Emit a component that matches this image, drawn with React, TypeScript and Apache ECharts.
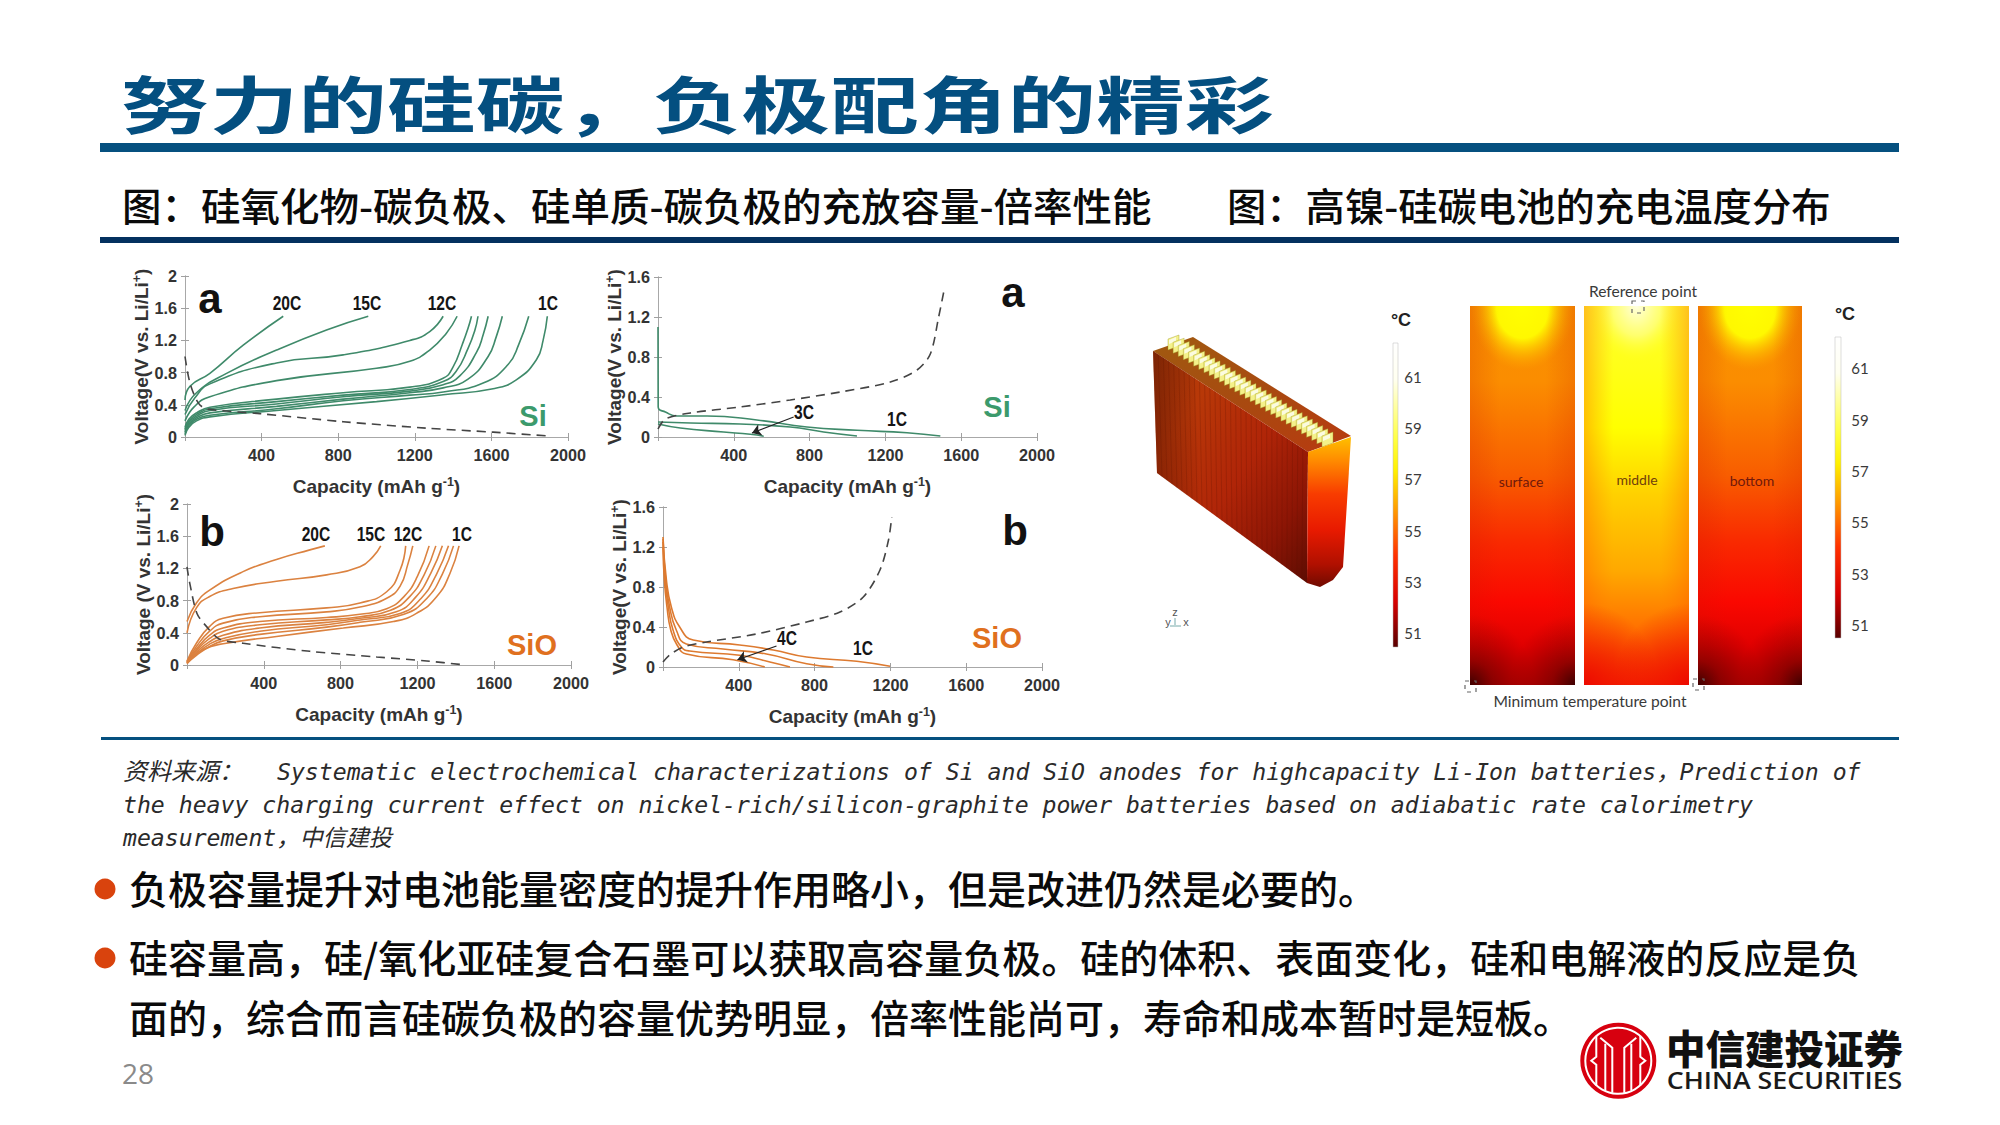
import React, { useEffect, useRef } from "react";
import * as echarts from "echarts";

type Pt = [number, number];

// ---- Si, charge profiles (panel top-left)
const siCharge20C: Pt[] = [[0, 0.46], [26, 0.63], [130, 0.79], [304, 1.14], [513, 1.5]];
const siCharge15C: Pt[] = [[0, 0.33], [60, 0.55], [217, 0.79], [478, 1.08], [739, 1.33], [957, 1.5]];
const siCharge12C: Pt[] = [[0, 0.28], [50, 0.48], [130, 0.66], [478, 0.92], [826, 1.02], [1174, 1.2], [1278, 1.31], [1348, 1.5]];
const siCharge10C: Pt[] = [[0, 0.2], [50, 0.38], [130, 0.5], [478, 0.7], [1000, 0.855], [1174, 0.94], [1278, 1.08], [1365, 1.29], [1421, 1.5]];
const siCharge8C: Pt[] = [[0, 0.12], [20, 0.22], [60, 0.3], [130, 0.37], [478, 0.47], [826, 0.55], [1174, 0.62], [1348, 0.73], [1400, 0.87], [1448, 1.15], [1478, 1.35], [1496, 1.5]];
const siCharge6C: Pt[] = [[0, 0.1], [20, 0.2], [60, 0.28], [130, 0.35], [478, 0.44], [826, 0.52], [1174, 0.59], [1348, 0.69], [1417, 0.82], [1478, 1.1], [1513, 1.32], [1530, 1.5]];
const siCharge5C: Pt[] = [[0, 0.08], [20, 0.18], [60, 0.26], [130, 0.33], [478, 0.41], [826, 0.5], [1174, 0.57], [1348, 0.65], [1435, 0.76], [1522, 1.05], [1557, 1.27], [1583, 1.5]];
const siCharge4C: Pt[] = [[0, 0.06], [20, 0.16], [60, 0.24], [130, 0.3], [478, 0.38], [826, 0.47], [1174, 0.55], [1348, 0.61], [1478, 0.72], [1583, 1.0], [1626, 1.25], [1657, 1.5]];
const siCharge2C: Pt[] = [[0, 0.04], [20, 0.14], [60, 0.22], [130, 0.27], [478, 0.35], [826, 0.45], [1174, 0.52], [1348, 0.56], [1557, 0.67], [1687, 0.9], [1743, 1.15], [1795, 1.5]];
const siCharge1C: Pt[] = [[0, 0.02], [20, 0.12], [60, 0.2], [130, 0.25], [478, 0.33], [1000, 0.44], [1348, 0.525], [1609, 0.6], [1730, 0.71], [1835, 0.96], [1870, 1.2], [1892, 1.5]];
const siDischargeDash: Pt[] = [[0, 1.0], [26, 0.67], [70, 0.42], [113, 0.35], [391, 0.29], [826, 0.19], [1260, 0.11], [1609, 0.06], [1913, 0.01]];

// ---- SiO, charge profiles (panel bottom-left)
const sioCharge20C: Pt[] = [[0, 0.54], [49, 0.77], [118, 0.93], [292, 1.16], [466, 1.31], [640, 1.43], [718, 1.48]];
const sioCharge15C: Pt[] = [[0, 0.4], [49, 0.71], [118, 0.85], [240, 0.95], [466, 1.04], [727, 1.12], [901, 1.22], [970, 1.35], [1009, 1.48]];
const sioCharge12C: Pt[] = [[0, 0.05], [49, 0.27], [118, 0.48], [188, 0.58], [379, 0.65], [727, 0.71], [901, 0.77], [1040, 0.91], [1110, 1.18], [1139, 1.48]];
const sioCharge10C: Pt[] = [[0, 0.04], [49, 0.23], [118, 0.42], [188, 0.52], [379, 0.6], [727, 0.66], [901, 0.72], [1040, 0.83], [1110, 0.98], [1150, 1.25], [1176, 1.48]];
const sioCharge8C: Pt[] = [[0, 0.04], [49, 0.2], [118, 0.37], [188, 0.46], [379, 0.54], [727, 0.59], [901, 0.63], [1040, 0.7], [1130, 0.85], [1200, 1.1], [1261, 1.48]];
const sioCharge6C: Pt[] = [[0, 0.03], [49, 0.18], [118, 0.33], [188, 0.42], [379, 0.5], [727, 0.56], [901, 0.6], [1060, 0.68], [1160, 0.85], [1235, 1.12], [1296, 1.48]];
const sioCharge5C: Pt[] = [[0, 0.03], [49, 0.16], [118, 0.29], [188, 0.37], [379, 0.46], [727, 0.53], [901, 0.58], [1090, 0.66], [1190, 0.84], [1270, 1.14], [1330, 1.48]];
const sioCharge4C: Pt[] = [[0, 0.02], [49, 0.14], [118, 0.26], [188, 0.33], [379, 0.42], [727, 0.5], [901, 0.56], [1110, 0.64], [1220, 0.83], [1300, 1.13], [1362, 1.48]];
const sioCharge2C: Pt[] = [[0, 0.02], [49, 0.12], [118, 0.23], [188, 0.3], [379, 0.38], [727, 0.47], [901, 0.53], [1130, 0.63], [1250, 0.83], [1330, 1.13], [1388, 1.48]];
const sioCharge1C: Pt[] = [[0, 0.02], [83, 0.19], [205, 0.27], [466, 0.355], [814, 0.46], [1075, 0.54], [1197, 0.645], [1301, 0.85], [1370, 1.14], [1417, 1.48]];
const sioDischargeDash: Pt[] = [[0, 1.22], [14, 1.02], [52, 0.64], [101, 0.48], [170, 0.32], [292, 0.27], [640, 0.17], [988, 0.1], [1249, 0.05], [1449, 0]];

// ---- Si, discharge profiles (panel top-right)
const siDis1C: Pt[] = [[0, 1.1], [1, 0.3], [39, 0.25], [100, 0.21], [259, 0.21], [522, 0.17], [786, 0.1], [1050, 0.067], [1314, 0.043], [1490, 0.01]];
const siDis2C: Pt[] = [[0, 0.15], [171, 0.14], [434, 0.13], [698, 0.1], [874, 0.05], [1050, 0.01]];
const siDis3C: Pt[] = [[0, 0.13], [118, 0.09], [346, 0.05], [487, 0.027], [558, 0.007]];
const siChargeDash: Pt[] = [[0, 0.08], [39, 0.18], [171, 0.24], [434, 0.3], [698, 0.37], [962, 0.45], [1226, 0.55], [1367, 0.67], [1437, 0.83], [1481, 1.2], [1513, 1.5]];
const siArrow: Pt[] = [[716, 0.2], [496, 0.04]];

// ---- SiO, discharge profiles (panel bottom-right)
const sioDis1C: Pt[] = [[0, 1.3], [18, 0.87], [44, 0.6], [88, 0.4], [159, 0.27], [405, 0.22], [582, 0.17], [758, 0.1], [1022, 0.057], [1198, 0.007]];
const sioDis2C: Pt[] = [[0, 1.28], [14, 0.87], [35, 0.6], [70, 0.37], [123, 0.23], [317, 0.18], [546, 0.13], [758, 0.033], [899, 0]];
const sioDis3C: Pt[] = [[0, 1.25], [11, 0.87], [28, 0.6], [53, 0.37], [97, 0.2], [141, 0.16], [405, 0.117], [564, 0.05], [670, 0]];
const sioDis4C: Pt[] = [[0, 1.2], [7, 0.87], [21, 0.6], [41, 0.37], [74, 0.22], [123, 0.13], [370, 0.073], [537, 0]];
const sioChargeDash: Pt[] = [[0, 0.05], [35, 0.12], [106, 0.2], [229, 0.25], [493, 0.33], [758, 0.45], [934, 0.55], [1057, 0.7], [1145, 0.97], [1190, 1.27], [1207, 1.5]];
const sioArrow: Pt[] = [[599, 0.21], [393, 0.073]];

// ---- Text
const titleText = "努力的硅碳，负极配角的精彩";
const leftCaption = "图：硅氧化物-碳负极、硅单质-碳负极的充放容量-倍率性能";
const rightCaption = "图：高镍-硅碳电池的充电温度分布";
const sourceLabel = "资料来源：";
const sourceLines = [
  "Systematic electrochemical characterizations of Si and SiO anodes for highcapacity Li-Ion batteries，Prediction of",
  "the heavy charging current effect on nickel-rich/silicon-graphite power batteries based on adiabatic rate calorimetry",
  "measurement，中信建投",
];
const bulletLines = [
  "负极容量提升对电池能量密度的提升作用略小，但是改进仍然是必要的。",
  "硅容量高，硅/氧化亚硅复合石墨可以获取高容量负极。硅的体积、表面变化，硅和电解液的反应是负",
  "面的，综合而言硅碳负极的容量优势明显，倍率性能尚可，寿命和成本暂时是短板。",
];
const tempTicks = ["61", "59", "57", "55", "53", "51"];

const GREEN = "#3f8a6a";
const ORANGE = "#db8240";
const DASH = "#444";
const CJK = '"Noto Sans CJK SC", sans-serif';
const ARIAL = '"Liberation Sans", Arial, sans-serif';
const MONO = '"DejaVu Sans Mono", "Noto Sans CJK SC", monospace';

type PanelDef = {
  box: [number, number, number, number];
  yMax: number;
  yName: string;
  curves: Pt[][];
  dash: Pt[];
  color: string;
  arrow?: Pt[];
};

const panels: PanelDef[] = [
  {
    box: [185, 276, 568, 437], yMax: 2, yName: "Voltage(V vs. Li/Li", color: GREEN, dash: siDischargeDash,
    curves: [siCharge20C, siCharge15C, siCharge12C, siCharge10C, siCharge8C, siCharge6C, siCharge5C, siCharge4C, siCharge2C, siCharge1C],
  },
  {
    box: [187, 504, 571, 665], yMax: 2, yName: "Voltage (V vs. Li/Li", color: ORANGE, dash: sioDischargeDash,
    curves: [sioCharge20C, sioCharge15C, sioCharge12C, sioCharge10C, sioCharge8C, sioCharge6C, sioCharge5C, sioCharge4C, sioCharge2C, sioCharge1C],
  },
  {
    box: [658, 277, 1037, 437], yMax: 1.6, yName: "Voltage(V vs. Li/Li", color: GREEN, dash: siChargeDash,
    curves: [siDis1C, siDis2C, siDis3C], arrow: siArrow,
  },
  {
    box: [663, 507, 1042, 667], yMax: 1.6, yName: "Voltage(V vs. Li/Li", color: "#dd7a30", dash: sioChargeDash,
    curves: [sioDis1C, sioDis2C, sioDis3C, sioDis4C], arrow: sioArrow,
  },
];

const L = (x0: number, y0: number, x1: number, y1: number, stops: [number, string][]) =>
  new echarts.graphic.LinearGradient(x0, y0, x1, y1, stops.map(([offset, color]) => ({ offset, color })));
const R = (x: number, y: number, r: number, stops: [number, string][]) =>
  new echarts.graphic.RadialGradient(x, y, r, stops.map(([offset, color]) => ({ offset, color })));

function txt(x: number, y: number, text: string, o: any = {}) {
  const { scaleX, rotation, ...style } = o;
  return {
    type: "text", x, y, z: 20, silent: true,
    ...(scaleX ? { scaleX } : {}), ...(rotation ? { rotation } : {}),
    style: { text, align: "center", verticalAlign: "middle", fontFamily: ARIAL, fill: "#222", ...style },
  };
}
const rect = (x: number, y: number, w: number, h: number, fill: any, extra: any = {}) => ({
  type: "rect", z: 5, silent: true, shape: { x, y, width: w, height: h }, style: { fill, ...extra },
});
const poly = (points: number[][], fill: any, extra: any = {}) => ({
  type: "polygon", z: 5, silent: true, shape: { points }, style: { fill, ...extra },
});
const seg = (x1: number, y1: number, x2: number, y2: number, stroke: string, lineWidth: number, z = 6) => ({
  type: "line", z, silent: true, shape: { x1, y1, x2, y2 }, style: { stroke, lineWidth },
});

function heatPanel(x: number, y: number, w: number, h: number, kind: "outer" | "middle") {
  const low = h * 0.3;
  const top = h * 0.34;
  if (kind === "outer") {
    return [
      rect(x, y, w, h, L(0, 0, 0, 1, [[0, "#f89000"], [0.2, "#fb8d00"], [0.45, "#f85c00"], [0.62, "#f92a00"], [0.78, "#fa0800"], [0.9, "#e00000"], [1, "#b80000"]])),
      rect(x, y, w, top, R(0.5, 0, 0.5, [[0, "rgba(255,255,0,1)"], [0.5, "rgba(255,248,0,1)"], [1, "rgba(255,170,0,0)"]])),
      rect(x, y, w, h, L(0, 0, 1, 0, [[0, "rgba(200,20,0,0.18)"], [0.28, "rgba(200,20,0,0)"], [0.72, "rgba(200,20,0,0)"], [1, "rgba(200,20,0,0.18)"]])),
      rect(x, y + h - low, w, low, R(0, 1, 0.62, [[0, "rgba(55,0,0,0.95)"], [0.35, "rgba(90,0,0,0.5)"], [1, "rgba(130,0,0,0)"]])),
      rect(x, y + h - low, w, low, R(1, 1, 0.62, [[0, "rgba(55,0,0,0.95)"], [0.35, "rgba(90,0,0,0.5)"], [1, "rgba(130,0,0,0)"]])),
    ];
  }
  return [
    rect(x, y, w, h, L(0, 0, 0, 1, [[0, "#ffff30"], [0.32, "#ffff00"], [0.5, "#ffd000"], [0.7, "#ffa800"], [0.86, "#ff6e00"], [1, "#f83000"]])),
    rect(x, y, w, top, R(0.5, 0, 0.46, [[0, "rgba(255,255,225,1)"], [0.5, "rgba(255,255,140,0.7)"], [1, "rgba(255,255,0,0)"]])),
    rect(x, y, w, h, L(0, 0, 1, 0, [[0, "rgba(255,90,0,0.38)"], [0.28, "rgba(255,120,0,0)"], [0.72, "rgba(255,120,0,0)"], [1, "rgba(255,90,0,0.38)"]])),
    rect(x, y + h - low, w, low, R(0, 1, 0.72, [[0, "rgba(235,0,0,0.85)"], [1, "rgba(235,0,0,0)"]])),
    rect(x, y + h - low, w, low, R(1, 1, 0.72, [[0, "rgba(235,0,0,0.85)"], [1, "rgba(235,0,0,0)"]])),
  ];
}

function colorBar(x: number, y: number, w: number, h: number) {
  return rect(x, y, w, h, L(0, 0, 0, 1, [[0, "#ffffff"], [0.12, "#fffff0"], [0.32, "#ffff40"], [0.42, "#fff000"], [0.55, "#ff9a00"], [0.7, "#ff3000"], [0.85, "#d80000"], [1, "#580000"]]), { stroke: "#bbb", lineWidth: 0.5 });
}

function dashedSquare(x: number, y: number, s: number) {
  return {
    type: "rect", z: 8, silent: true, shape: { x, y, width: s, height: s },
    style: { fill: "none", stroke: "#666", lineWidth: 1.2, lineDash: [4, 5] },
  };
}

function batteryElements() {
  const out: any[] = [];
  out.push(poly([[1153, 351], [1193, 337], [1351, 436], [1308, 452]], L(0, 0, 1, 1, [[0, "#a05a10"], [0.5, "#a84a10"], [1, "#b83a10"]])));
  const tabs = 31;
  for (let i = 0; i < tabs; i++) {
    const t = i / (tabs - 1);
    const x0 = 1168 + t * 154;
    const y0 = 339 + t * 97;
    out.push(poly([[x0, y0], [x0 + 11, y0 - 4], [x0 + 11, y0 + 7], [x0, y0 + 11]], "#f4f18a", { stroke: "#a09820", lineWidth: 0.4 }));
    out.push(poly([[x0 + 1, y0 + 1], [x0 + 8, y0 - 2], [x0 + 8, y0 + 2], [x0 + 1, y0 + 5]], "#fbfbe0"));
  }
  out.push(poly([[1153, 351], [1308, 452], [1307, 583], [1157, 473]], L(0, 0, 1, 1, [[0, "#a83a08"], [0.25, "#b83808"], [0.55, "#b02508"], [0.8, "#8c1505"], [1, "#5c0c02"]])));
  out.push(poly([[1153, 351], [1157, 473], [1200, 505], [1195, 378]], L(0, 0, 1, 0, [[0, "rgba(70,10,0,0.45)"], [1, "rgba(70,10,0,0)"]])));
  const stripes = 30;
  for (let i = 1; i < stripes; i++) {
    const t = i / stripes;
    out.push(seg(1153 + t * 155, 351 + t * 101, 1157 + t * 150, 473 + t * 110, "rgba(90,20,0,0.22)", 1));
  }
  out.push(poly([[1308, 452], [1351, 437], [1343, 567], [1333, 580], [1320, 587], [1307, 583]], L(0, 0, 0, 1, [[0, "#ffc000"], [0.16, "#ff8a00"], [0.38, "#f83c00"], [0.62, "#e81a00"], [0.85, "#b01000"], [1, "#700a00"]])));
  out.push(txt(1168, 622, "y", { fontSize: 11, fill: "#555" }));
  out.push(txt(1175, 612, "z", { fontSize: 11, fill: "#555" }));
  out.push(txt(1186, 622, "x", { fontSize: 11, fill: "#555" }));
  out.push(seg(1175, 618, 1175, 625, "#7aa", 1), seg(1170, 626, 1181, 626, "#7aa", 1));
  return out;
}

function logoElements() {
  const cx = 1618.3, cy = 1060.7;
  const white = "#fff";
  const el: any[] = [
    { type: "circle", z: 10, silent: true, shape: { cx, cy, r: 38 }, style: { fill: "#d7000f" } },
    { type: "circle", z: 11, silent: true, shape: { cx, cy, r: 33 }, style: { fill: "none", stroke: white, lineWidth: 2 } },
  ];
  const lines: number[][][] = [
    [[-6, 32], [-6, -13], [-18, -23]], [[6, 32], [6, -13], [18, -23]],
    [[-13, 30], [-13, -17]], [[13, 30], [13, -17]],
    [[-22, 25], [-22, 4], [-27, 0], [-22, -4], [-22, -25]], [[22, 25], [22, 4], [27, 0], [22, -4], [22, -25]],
  ];
  for (const p of lines) {
    el.push({
      type: "polyline", z: 12, silent: true,
      shape: { points: p.map(([a, b]) => [cx + a, cy + b]) },
      style: { fill: "none", stroke: white, lineWidth: 2 },
    });
  }
  el.push(txt(1784.5, 1046, "中信建投证券", { fontFamily: CJK, fontSize: 39.5, fontWeight: 900, fill: "#111" }));
  el.push(txt(1784.5, 1080, "CHINA SECURITIES", { fontFamily: '"Open Sans", sans-serif', fontSize: 23.5, fontWeight: 600, fill: "#1a1a1a", scaleX: 1.14 }));
  return el;
}

function graphicElements() {
  const el: any[] = [];
  // header
  el.push(txt(121, 102, titleText, { align: "left", fontFamily: CJK, fontSize: 62, fontWeight: 700, fill: "#044f80", scaleX: 1.43 }));
  el.push(rect(100, 143, 1799, 9, "#05507f"));
  el.push(txt(122, 204, leftCaption, { align: "left", fontFamily: CJK, fontSize: 38.8, fontWeight: 500, fill: "#0a0a0a", scaleX: 1.0177 }));
  el.push(txt(1227, 204, rightCaption, { align: "left", fontFamily: CJK, fontSize: 38.8, fontWeight: 500, fill: "#0a0a0a", scaleX: 1.013 }));
  el.push(rect(100, 237, 1799, 6, "#03315f"));
  el.push(rect(101, 737, 1798, 3, "#05507f"));

  // source
  const src = { align: "left", fontFamily: MONO, fontStyle: "italic", fontSize: 23.15, fill: "#2a2a2a" };
  el.push(txt(123, 772, sourceLabel, { ...src, fontSize: 24 }));
  el.push(txt(277, 772, sourceLines[0], src));
  el.push(txt(123, 805, sourceLines[1], src));
  el.push(txt(123, 838, sourceLines[2], src));

  // bullets
  const body = { align: "left", fontFamily: CJK, fontSize: 39, fontWeight: 500, fill: "#0a0a0a" };
  el.push(txt(129, 887, bulletLines[0], body), txt(129, 956, bulletLines[1], body), txt(129, 1016, bulletLines[2], body));
  [889, 958].forEach((y) =>
    el.push({ type: "circle", z: 10, silent: true, shape: { cx: 105, cy: y, r: 10.5 }, style: { fill: "#d9430d" } })
  );
  el.push(txt(138, 1073, "28", { fontFamily: '"Open Sans", sans-serif', fontSize: 28, fill: "#8a8a8a" }));

  // panel annotations
  const narrow = { fontSize: 20, fontWeight: "bold", fill: "#151515", scaleX: 0.78 };
  const tag = { fontSize: 42, fontWeight: "bold", fill: "#111" };
  el.push(txt(210, 298, "a", tag), txt(1013, 292, "a", tag), txt(212, 531, "b", tag), txt(1015, 530, "b", tag));
  [[287, "20C"], [367, "15C"], [442, "12C"], [548, "1C"]].forEach(([x, s]) => el.push(txt(x as number, 303, s as string, narrow)));
  [[316, "20C"], [371, "15C"], [408, "12C"], [462, "1C"]].forEach(([x, s]) => el.push(txt(x as number, 534, s as string, narrow)));
  el.push(txt(804, 412, "3C", narrow), txt(897, 419, "1C", narrow), txt(787, 638, "4C", narrow), txt(863, 648, "1C", narrow));
  el.push(txt(533, 416, "Si", { fontSize: 29, fontWeight: "bold", fill: "#3c9a6c" }));
  el.push(txt(997, 407, "Si", { fontSize: 29, fontWeight: "bold", fill: "#3c9a6c" }));
  el.push(txt(532, 645, "SiO", { fontSize: 29, fontWeight: "bold", fill: "#e0701e" }));
  el.push(txt(997, 638, "SiO", { fontSize: 29, fontWeight: "bold", fill: "#e0701e" }));

  // thermal figure
  el.push(...batteryElements());
  el.push(...heatPanel(1470, 306, 105, 379, "outer"));
  el.push(...heatPanel(1584, 306, 105, 379, "middle"));
  el.push(...heatPanel(1698, 306, 104, 379, "outer"));
  el.push(colorBar(1393, 343, 5, 304));
  el.push(colorBar(1835, 337, 6, 301));
  const small = { fontFamily: '"Lato", sans-serif', fontSize: 15, fill: "#3a3a3a" };
  tempTicks.forEach((s, i) => {
    el.push(txt(1413, [377, 428, 479, 531, 582, 633][i], s, small));
    el.push(txt(1860, [368, 420, 471, 522, 574, 625][i], s, small));
  });
  el.push(txt(1401, 320, "°C", { fontSize: 18, fontWeight: "bold", fill: "#222" }));
  el.push(txt(1845, 314, "°C", { fontSize: 18, fontWeight: "bold", fill: "#222" }));
  el.push(txt(1643, 291, "Reference point", { ...small, fontSize: 15.6 }));
  el.push(txt(1590, 701, "Minimum temperature point", { ...small, fontSize: 15.6 }));
  el.push(txt(1521, 481, "surface", { ...small, fontSize: 14, fill: "#70180c" }));
  el.push(txt(1637, 479, "middle", { ...small, fontSize: 14, fill: "#70400c" }));
  el.push(txt(1752, 480, "bottom", { ...small, fontSize: 14, fill: "#70180c" }));
  el.push(dashedSquare(1632, 301, 12), dashedSquare(1465, 681, 11), dashedSquare(1693, 679, 11));

  el.push(...logoElements());
  return el;
}

function buildOption() {
  const grid: any[] = [];
  const xAxis: any[] = [];
  const yAxis: any[] = [];
  const series: any[] = [];
  const lineCfg = { lineStyle: { color: "#a8a8a8", width: 1 } };
  const tickCfg = { show: true, inside: true, length: 4, lineStyle: { color: "#a0a0a0", width: 1 } };
  const labelCfg = { fontFamily: ARIAL, fontWeight: "bold", fontSize: 16.2, color: "#333" };
  const rich = {
    n: { fontFamily: ARIAL, fontWeight: "bold", fontSize: 19, color: "#333" },
    s: { fontFamily: ARIAL, fontWeight: "bold", fontSize: 12.5, color: "#333", padding: [0, 0, 9, 0] },
  };

  panels.forEach((p, i) => {
    const [l, t, r, b] = p.box;
    grid.push({ left: l, top: t, width: r - l, height: b - t, show: false });
    const base = { type: "value", gridIndex: i, min: 0, axisLine: { show: true, ...lineCfg }, axisTick: tickCfg, splitLine: { show: false } };
    xAxis[i] = {
      ...base, position: "bottom", max: 2000, interval: 400,
      axisLabel: { ...labelCfg, margin: 10, formatter: (v: number) => (v === 0 ? "" : String(v)) },
      name: "{n|Capacity (mAh g}{s|-1}{n|)}", nameLocation: "middle", nameGap: 38, nameTextStyle: { rich },
    };
    xAxis[i + panels.length] = { ...base, position: "top", max: 2000, interval: 400, axisLabel: { show: false } };
    yAxis[i] = {
      ...base, position: "left", max: p.yMax, interval: 0.4,
      axisLabel: {
        ...labelCfg, margin: 8,
        formatter: (v: number) => (v === 0 ? "0" : Number.isInteger(v) ? String(v) : v.toFixed(1)),
      },
      name: `{n|${p.yName}}{s|+}{n|)}`, nameLocation: "middle", nameRotate: 90, nameGap: 32, nameTextStyle: { rich },
    };
    yAxis[i + panels.length] = { ...base, position: "right", max: p.yMax, interval: 0.4, axisLabel: { show: false } };

    p.curves.forEach((data, k) => {
      series.push({
        type: "line", xAxisIndex: i, yAxisIndex: i, data, showSymbol: false, symbol: "none",
        smooth: 0.5, clip: false, silent: true,
        lineStyle: { color: p.color, width: 1.6 }, z: 3,
        ...(k === 0 && p.arrow
          ? {
              markLine: {
                silent: true, animation: false, symbolSize: 9,
                label: { show: false }, lineStyle: { color: "#222", width: 1.2, type: "solid" },
                data: [[
                  { coord: p.arrow[0], symbol: "none" },
                  { coord: p.arrow[1], symbol: "arrow" },
                ]],
              },
            }
          : {}),
      });
    });
    series.push({
      type: "line", xAxisIndex: i, yAxisIndex: i, data: p.dash, showSymbol: false, symbol: "none",
      smooth: 0.3, clip: false, silent: true, z: 4,
      lineStyle: { color: DASH, width: 1.6, type: [9, 6] },
    });
  });

  return { animation: false, backgroundColor: "#fff", grid, xAxis, yAxis, series, graphic: { elements: graphicElements() } };
}

export default function App() {
  const ref = useRef<HTMLDivElement>(null);
  useEffect(() => {
    document.body.style.margin = "0";
    const chart = echarts.init(ref.current!, null, { renderer: "svg" });
    chart.setOption(buildOption() as any);
    return () => chart.dispose();
  }, []);
  return <div ref={ref} style={{ position: "absolute", left: 0, top: 0, width: 2000, height: 1125 }} />;
}
